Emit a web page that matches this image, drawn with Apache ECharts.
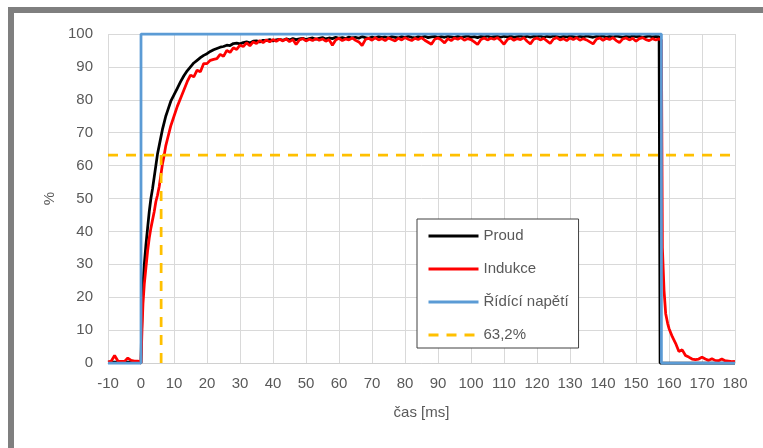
<!DOCTYPE html>
<html>
<head>
<meta charset="utf-8">
<script src="https://cdn.jsdelivr.net/npm/echarts@6/dist/echarts.min.js"></script>
<style>
html,body{margin:0;padding:0;background:#fff;}
#c{width:763px;height:448px;}
</style>
</head>
<body>
<div id="c"></div>
<script>
// time axis (ms) shared by Proud and Indukce
var cas = [-10,-9,-8,-7,-6,-5,-4,-3,-2,-1,
  0,0.3,0.6,1,1.5,2,2.5,3,3.5,4,4.5,5,5.5,6,6.5,7,7.5,8,
  9,10,11,12,13,14,15,16,17,18,19,20,
  21,22,23,24,25,26,27,28,29,30,31,32,33,34,35,36,37,38,39,40,
  41,42,43,44,45,46,47,48,49,50,51,52,53,54,55,56,57,58,59,60,
  61,62,63,64,65,66,67,68,69,70,71,72,73,74,75,76,77,78,79,80,
  81,82,83,84,85,86,87,88,89,90,91,92,93,94,95,96,97,98,99,100,
  101,102,103,104,105,106,107,108,109,110,111,112,113,114,115,116,117,118,119,120,
  121,122,123,124,125,126,127,128,129,130,131,132,133,134,135,136,137,138,139,140,
  141,142,143,144,145,146,147,148,149,150,151,152,153,154,155,156,157,
  157.3,157.7,158,158.5,159,159.6,160,161,162,163,164,165,166,167,168,169,170,
  171,172,173,174,175,176,177,178,179,180];

var proud = [0.3,0.3,0.3,0.3,0.3,0.3,0.3,0.3,0.3,0.3,
  0,16,24,30,36,41,46,50,53,56.5,60,63.5,66,68.5,71,73,75,76.5,
  79.5,81.5,83.5,85.5,87.3,88.8,90,91.2,92,92.8,93.5,94,
  94.7,95.2,95.6,96.0,96.2,96.6,96.5,97.1,97.2,97.0,97.4,97.6,97.3,97.8,97.9,97.6,98.1,98.0,98.3,97.9,
  98.2,98.4,98.1,98.5,98.2,98.6,98.3,98.5,98.7,98.3,98.6,98.8,98.4,98.7,98.9,98.5,98.8,98.6,99.0,98.7,
  98.9,98.6,99.1,98.8,99.0,98.7,99.2,98.9,98.7,99.1,98.8,99.2,98.9,99.1,98.8,99.2,99.0,98.8,99.2,98.9,
  99.3,99.0,98.8,99.2,99.0,99.3,98.9,99.1,99.3,98.9,99.2,99.0,99.3,99.1,98.9,99.3,99.0,99.2,99.4,99.0,
  99.2,98.9,99.3,99.1,99.4,99.0,99.2,99.3,99.0,99.3,99.1,99.4,99.0,99.2,99.4,99.1,99.3,99.0,99.3,99.2,
  99.4,99.0,99.3,99.1,99.4,99.2,99.0,99.3,99.1,99.4,99.2,99.0,99.3,99.1,99.4,99.2,99.0,99.3,99.2,99.4,
  99.0,99.3,99.1,99.4,99.2,99.0,99.3,99.1,99.4,99.2,99.3,99.0,99.2,99.4,99.1,99.3,99.2,
  0,0,0,0,0,0,0,0,0,0,0,0,0,0,0,0,0,
  0,0,0,0,0,0,0,0,0,0];

var indukce = [0.3,0.6,2.3,0.6,0.5,0.5,1.5,0.8,0.6,0.6,
  0,10,18,24,29,34,38,41,43.5,46,49,51,53.5,57,60.5,63,66,68,
  72,75,78,80.5,83,85.5,87.5,87,89,88.5,91,91,
  92.0,92.3,92.5,93.8,93.2,95.0,94.4,95.8,95.3,96.6,96.2,97.3,96.4,97.6,97.1,98.0,97.4,98.2,97.6,98.3,
  97.8,98.4,97.9,98.5,97.7,98.3,96.8,98.2,98.6,97.9,98.4,98.0,98.6,98.1,98.5,97.8,98.3,96.6,98.2,98.7,
  98.0,98.5,98.2,98.8,98.1,97.6,96.5,98.3,98.7,98.1,98.9,98.2,98.6,98.0,98.8,98.3,97.9,98.7,98.2,98.9,
  98.4,98.0,98.7,98.3,98.9,98.1,97.5,96.9,98.4,98.8,98.2,97.3,98.6,98.0,98.8,98.4,98.9,98.1,98.6,98.3,
  97.6,96.8,98.3,98.8,98.2,98.7,98.4,98.9,98.0,96.9,98.3,98.8,98.1,98.6,98.3,98.9,97.8,97.0,98.4,98.8,
  98.2,98.7,97.9,97.1,98.5,98.9,98.2,98.6,98.0,98.8,98.3,98.9,98.1,98.6,98.2,97.6,97.0,98.4,98.8,98.1,
  98.7,98.3,98.9,98.0,97.4,98.5,98.8,98.2,98.7,97.8,98.6,98.9,98.3,98.0,98.6,98.2,98.5,
  98.8,98.2,35,22,15,12,10.5,8,6,3.5,4,2.3,1.8,1.2,1.0,1.2,1.8,
  1.2,0.8,1.3,0.8,0.7,1.2,0.7,0.6,0.4,0.5];

// control voltage (Řídící napětí)
var napetiCas = [-10, 0, 0, 157.7, 157.7, 180];
var napeti = [0, 0, 100, 100, 0, 0];

// 63,2 % reference
var refCas = [-10, 180, null, 6.1, 6.1];
var ref = [63.2, 63.2, null, 63.2, 0];

function pairs(xs, ys){
  var out = [];
  for (var i = 0; i < xs.length; i++) {
    out.push(xs[i] === null ? '-' : [xs[i], ys[i]]);
  }
  return out;
}

var font = 'Liberation Sans, Arial, sans-serif';
var chart = echarts.init(document.getElementById('c'), null, {renderer:'canvas'});
chart.setOption({
  animation: false,
  backgroundColor: '#ffffff',
  textStyle: {fontFamily: font},
  graphic: [
    {type:'rect', shape:{x:8, y:7, width:755, height:6}, style:{fill:'#7f7f7f'}, silent:true},
    {type:'rect', shape:{x:8, y:7, width:6, height:441}, style:{fill:'#7f7f7f'}, silent:true}
  ],
  grid: {left:108, right:28, top:34, bottom:85, containLabel:false},
  xAxis: {
    type:'value', min:-10, max:180, interval:10,
    name:'čas [ms]', nameLocation:'middle', nameGap:42,
    nameTextStyle:{color:'#595959', fontSize:15, fontFamily:font},
    axisLine:{show:true, onZero:false, lineStyle:{color:'#d0d0d0', width:1}},
    axisTick:{show:false},
    axisLabel:{color:'#595959', fontSize:15, margin:13, fontFamily:font},
    splitLine:{show:true, lineStyle:{color:'#d9d9d9', width:1}}
  },
  yAxis: {
    type:'value', min:0, max:100, interval:10,
    name:'%', nameLocation:'middle', nameGap:50,
    nameTextStyle:{color:'#595959', fontSize:15, fontFamily:font},
    axisLine:{show:false},
    axisTick:{show:false},
    axisLabel:{color:'#595959', fontSize:15, margin:15, fontFamily:font},
    splitLine:{show:true, lineStyle:{color:'#d9d9d9', width:1}}
  },
  legend: {
    orient:'vertical', left:417, top:219,
    padding:[8,10,4,10], itemGap:15, itemWidth:50, itemHeight:18,
    borderColor:'#404040', borderWidth:1, backgroundColor:'#ffffff',
    itemStyle:{opacity:0},
    lineStyle:{width:3},
    textStyle:{color:'#595959', fontSize:15, lineHeight:18, fontFamily:font},
    data:['Proud','Indukce','Řídící napětí','63,2%']
  },
  series: [
    {name:'Proud', type:'line', data:pairs(cas, proud), showSymbol:false, symbol:'none',
     clip:false, lineStyle:{color:'#000000', width:2.75}, itemStyle:{color:'#000000'}},
    {name:'Indukce', type:'line', data:pairs(cas, indukce), showSymbol:false, symbol:'none',
     clip:false, lineStyle:{color:'#ff0000', width:2.75}, itemStyle:{color:'#ff0000'}},
    {name:'Řídící napětí', type:'line', data:pairs(napetiCas, napeti), showSymbol:false, symbol:'none',
     clip:false, lineStyle:{color:'#5b9bd5', width:2.75}, itemStyle:{color:'#5b9bd5'}},
    {name:'63,2%', type:'line', data:pairs(refCas, ref), showSymbol:false, symbol:'none',
     clip:false, connectNulls:false,
     lineStyle:{color:'#ffc000', width:2.75, type:[10,8]}, itemStyle:{color:'#ffc000'}}
  ]
});
</script>
</body>
</html>
